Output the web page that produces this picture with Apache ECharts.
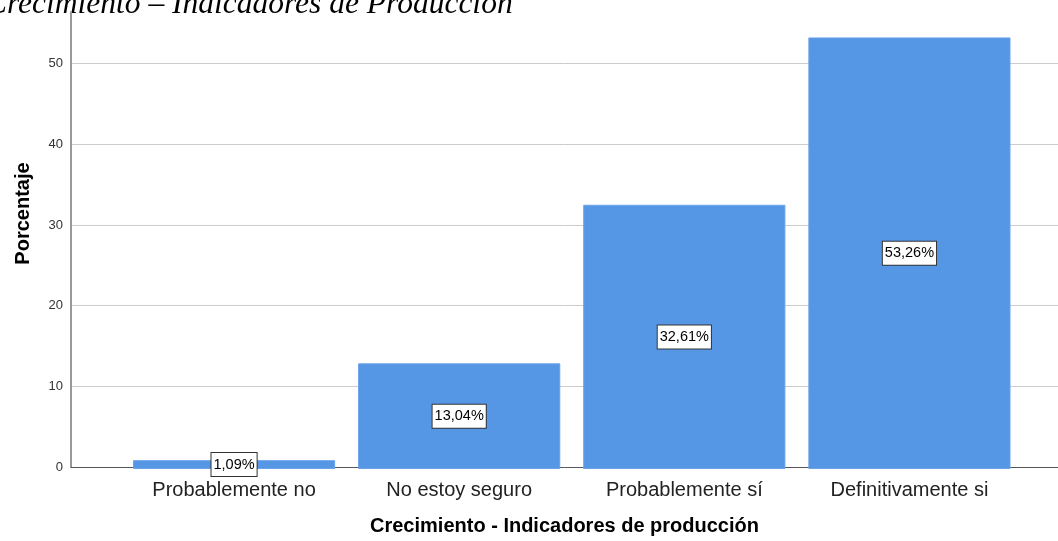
<!DOCTYPE html>
<html>
<head>
<meta charset="utf-8">
<script src="https://cdn.jsdelivr.net/npm/echarts@6/dist/echarts.min.js"></script>
<style>
html,body{margin:0;padding:0;background:#fff;}
#chart{width:1058px;height:541px;}
</style>
</head>
<body>
<div id="chart"></div>
<script>
const categories = ['Probablemente no', 'No estoy seguro', 'Probablemente sí', 'Definitivamente si'];
const percentages = [1.09, 13.04, 32.61, 53.26];
const yTicks = [0, 10, 20, 30, 40, 50];

const chart = echarts.init(document.getElementById('chart'));
const font = 'Liberation Sans, Arial, sans-serif';
const yMax = 56.4;
chart.setOption({
  animation: false,
  graphic: [{
    type: 'text', left: -14, top: -11,
    style: { text: 'Crecimiento – Indicadores de Producción', font: 'italic 31.5px "Liberation Serif", "Times New Roman", serif', fill: '#000' }
  }, {
    type: 'text', x: 23, y: 213.5, rotation: Math.PI / 2,
    style: { text: 'Porcentaje', font: 'bold 20px "Liberation Sans", Arial, sans-serif', fill: '#000', align: 'center', verticalAlign: 'middle' }
  }],
  grid: [
    { left: 71, right: 0, top: 12, bottom: 72 },
    { left: 121.5, right: 36, top: 12, bottom: 72 }
  ],
  xAxis: [
    { type: 'value', gridIndex: 0, min: 0, max: 1, splitLine: { show: false }, axisTick: { show: false }, axisLabel: { show: false },
      axisLine: { show: true, lineStyle: { color: '#555', width: 1 } },
      name: 'Crecimiento - Indicadores de producción', nameLocation: 'middle', nameGap: 49,
      nameTextStyle: { fontFamily: font, fontSize: 20, fontWeight: 'bold', color: '#000' } },
    { type: 'category', gridIndex: 1, data: categories, axisLine: { show: false }, axisTick: { show: false },
      axisLabel: { fontFamily: font, fontSize: 20, color: '#222', margin: 11 } }
  ],
  yAxis: [
    { type: 'value', gridIndex: 0, min: 0, max: yMax, interval: 10,
      axisLine: { show: true, lineStyle: { color: '#999', width: 2 } }, axisTick: { show: false },
      axisLabel: { fontFamily: font, fontSize: 13, color: '#333', margin: 8, showMaxLabel: false,
        formatter: v => yTicks.includes(v) ? String(v) : '' },
      splitLine: { show: true, showMaxLine: false, lineStyle: { color: '#ccc', width: 1 } } },
    { type: 'value', gridIndex: 1, min: 0, max: yMax, show: false, splitLine: { show: false } }
  ],
  series: [{
    type: 'bar', xAxisIndex: 1, yAxisIndex: 1, data: percentages, barCategoryGap: '10.2%',
    itemStyle: { color: '#5596e5', borderColor: '#6aa3ea', borderWidth: 1 },
    label: { show: true, position: 'inside', formatter: p => p.value.toFixed(2).replace('.', ',') + '%',
      fontFamily: font, fontSize: 14.5, lineHeight: 16, color: '#000', backgroundColor: '#fff', borderColor: '#333', borderWidth: 1, padding: [4, 2, 3, 2] }
  }]
});
</script>
</body>
</html>
